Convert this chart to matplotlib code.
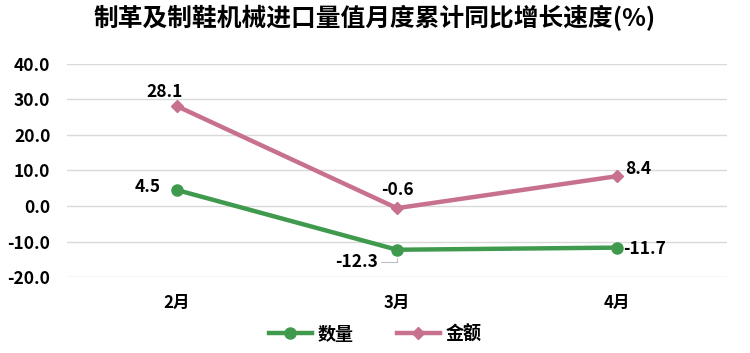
import matplotlib.pyplot as plt

plt.rcParams['font.family'] = ['Noto Sans CJK SC', 'DejaVu Sans']

months = ['2月', '3月', '4月']
qty = [4.5, -12.3, -11.7]
amount = [28.1, -0.6, 8.4]

green = '#3f9a4e'
pink = '#c8718e'

fig = plt.figure(figsize=(7.5, 3.53), dpi=100)
ax = fig.add_axes([0.0893, 0.215, 0.88, 0.604])

x = range(len(months))
ax.plot(x, qty, color=green, lw=3.2, marker='o', ms=8, label='数量')
ax.plot(x, amount, color=pink, lw=3.2, marker='D', ms=6, label='金额')

ax.set_xlim(-0.5, 2.5)
ax.set_ylim(-20, 40)
ax.set_yticks(range(-20, 41, 10))
ax.set_yticklabels([f'{v:.1f}' for v in range(-20, 41, 10)], fontweight='bold', fontsize=12.5)
ax.set_xticks(list(x))
ax.set_xticklabels(months, fontweight='bold', fontsize=12)
ax.tick_params(length=0, axis='y', pad=12)
ax.tick_params(length=0, axis='x', pad=12)
ax.grid(axis='y', color='#d9d9d9', lw=1)
ax.set_axisbelow(True)
for s in ax.spines.values():
    s.set_visible(False)

lab = dict(fontsize=12.5, fontweight='bold', color='black', ha='center', va='center',
           textcoords='offset points')
ax.annotate(f'{amount[0]}', (0, amount[0]), xytext=(-9, 10), **lab)
ax.annotate(f'{amount[1]}', (1, amount[1]), xytext=(0, 13), **lab)
ax.annotate(f'{amount[2]}', (2, amount[2]), xytext=(15, 5), **lab)
ax.annotate(f'{qty[0]}', (0, qty[0]), xytext=(-21, 2), **lab)
ax.annotate(f'{qty[2]}', (2, qty[2]), xytext=(20, -1), **lab)
ax.annotate(f'{qty[1]}', (1, qty[1]), xytext=(-29, -9), **lab,
            arrowprops=dict(arrowstyle='-', color='#bfbfbf', lw=0.8, relpos=(1.05, 0.5),
                            connectionstyle='angle,angleA=0,angleB=90,rad=0',
                            shrinkA=0, shrinkB=6))

fig.suptitle('制革及制鞋机械进口量值月度累计同比增长速度(%)', fontsize=17.8, fontweight='bold', y=0.985)
fig.legend(loc='lower center', bbox_to_anchor=(0.5, -0.02), ncol=2, frameon=False,
           prop=dict(weight='bold', size=13), handlelength=2.4, handletextpad=0.3, columnspacing=2.4)

fig.savefig('out.png', dpi=100)
